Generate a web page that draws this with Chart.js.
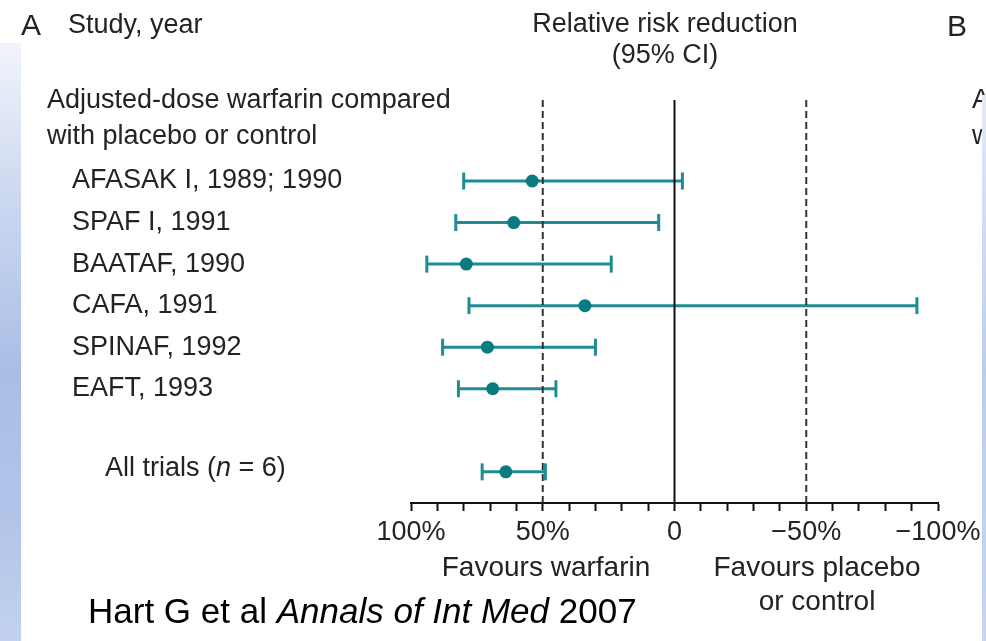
<!DOCTYPE html>
<html>
<head>
<meta charset="utf-8">
<title>Adjusted-dose warfarin compared with placebo or control</title>
<script src="https://cdn.jsdelivr.net/npm/chart.js@4.4.0/dist/chart.umd.min.js"></script>
<style>
    html, body { margin: 0; padding: 0; background: #fff; }
    #wrap { position: relative; width: 986px; height: 641px; overflow: hidden; background: #fff; }
    #plot { position: absolute; left: 0; top: 0; }
    #leftBar {
        position: absolute; left: 0; top: 43px; width: 21px; bottom: 0;
        background: linear-gradient(to bottom, #f1f4fb 0%, #cdd9f0 25%, #a9bee6 55%, #b2c5e9 80%, #c2d1ee 100%);
    }
    #rightBar {
        position: absolute; right: 0; top: 95px; width: 4px; bottom: 0;
        background: linear-gradient(to bottom, #e3eaf7 0%, #bccdec 50%, #c6d4ef 100%);
    }
</style>
</head>
<body>
<div id="wrap">
    <canvas id="plot" width="986" height="641"></canvas>
    <div id="leftBar"></div>
    <div id="rightBar"></div>
</div>
<script>
(function() {
    "use strict";

    // data (relative risk reduction, %)
    const studies = ['AFASAK I, 1989; 1990', 'SPAF I, 1991', 'BAATAF, 1990', 'CAFA, 1991', 'SPINAF, 1992', 'EAFT, 1993'];
    const rowPos = [0, 1, 2, 3, 4, 5, 7];            // last row = pooled result
    const estimate = [54, 61, 79, 34, 71, 69, 64];
    const ciUpper = [80, 83, 94, 78, 88, 82, 73];     // left end of bar
    const ciLower = [-3, 6, 24, -92, 30, 45, 49];     // right end of bar
    const refLines = [50, 0, -50];
    const tickValues = [100, 50, 0, -50, -100];
    const tickText = ['100%', '50%', '0', '\u221250%', '\u2212100%'];

    const family = '"Liberation Sans", Arial, Helvetica, sans-serif';
    const ink = '#232323';
    const teal = '#1e8c92';
    const tealDot = '#0b7b82';
    const yMin = -1.95, yMax = 7.75;

    function font(size, italic) {
        return (italic ? 'italic ' : '') + size + 'px ' + family;
    }

    // draw a line of text made of normal / italic pieces
    function runs(ctx, parts, x, y, size, align) {
        let w = 0;
        parts.forEach(p => { ctx.font = font(size, p[1]); w += ctx.measureText(p[0]).width; });
        let cx = align === 'center' ? x - w / 2 : x;
        ctx.textAlign = 'left';
        parts.forEach(p => {
            ctx.font = font(size, p[1]);
            ctx.fillText(p[0], cx, y);
            cx += ctx.measureText(p[0]).width;
        });
    }

    const labelsPlugin = {
        id: 'forestLabels',
        afterDraw(chart) {
            const ctx = chart.ctx;
            const y = chart.scales.y;
            ctx.save();
            ctx.fillStyle = ink;
            ctx.textBaseline = 'alphabetic';

            ctx.font = font(30);
            ctx.fillText('A', 21, 35);
            ctx.fillText('B', 947, 36);
            ctx.font = font(27);
            ctx.fillText('Study, year', 68, 33);
            runs(ctx, [['Relative risk reduction', false]], 665, 32, 27, 'center');
            runs(ctx, [['(95% CI)', false]], 665, 63, 27, 'center');

            ctx.textBaseline = 'middle';
            ctx.font = font(27);
            ctx.fillText('Adjusted-dose warfarin compared', 47, 101);
            ctx.fillText('with placebo or control', 47, 137);
            // panel B, cut by the right edge
            ctx.fillText('Adjusted-dose', 972, 101);
            ctx.fillText('with placebo', 972, 137);

            studies.forEach((s, i) => {
                ctx.fillText(s, 72, y.getPixelForValue(rowPos[i]));
            });
            runs(ctx, [['All trials (', false], ['n', true], [' = 6)', false]],
                105, y.getPixelForValue(rowPos[6]) - 3, 27, 'left');

            runs(ctx, [['Favours warfarin', false]], 546, 568, 28, 'center');
            runs(ctx, [['Favours placebo', false]], 817, 568, 28, 'center');
            runs(ctx, [['or control', false]], 817, 602, 28, 'center');

            ctx.fillStyle = '#000';
            runs(ctx, [['Hart G et al ', false], ['Annals of Int Med', true], [' 2007', false]], 88, 613, 35, 'left');
            ctx.restore();
        }
    };

    document.addEventListener("DOMContentLoaded", () => {
        const datasets = [];

        datasets.push({
            label: 'Estimate',
            data: rowPos.map((r, i) => ({ x: estimate[i], y: r })),
            pointRadius: 6.5,
            pointBackgroundColor: tealDot,
            pointBorderWidth: 0,
            order: 0
        });

        refLines.forEach(v => {
            datasets.push({
                label: 'ref ' + v,
                data: [{ x: v, y: yMin }, { x: v, y: yMax }],
                showLine: true,
                borderColor: v === 0 ? '#111' : '#333',
                borderWidth: 2,
                borderDash: v === 0 ? [] : [7, 4],
                pointRadius: 0,
                order: 1
            });
        });

        rowPos.forEach((r, i) => {
            datasets.push({
                label: 'CI ' + i,
                data: [{ x: ciUpper[i], y: r }, { x: ciLower[i], y: r }],
                showLine: true,
                borderColor: teal,
                borderWidth: 3,
                pointStyle: 'line',
                pointRotation: 90,
                pointRadius: 8.5,
                pointBorderColor: teal,
                pointBorderWidth: 3,
                order: 2
            });
        });

        new Chart(document.getElementById('plot'), {
            type: 'scatter',
            data: { datasets: datasets },
            plugins: [labelsPlugin],
            options: {
                responsive: false,
                animation: false,
                events: [],
                layout: { padding: { left: 411, right: 48, top: 100, bottom: 0 } },
                plugins: { legend: { display: false }, tooltip: { enabled: false } },
                scales: {
                    x: {
                        type: 'linear',
                        min: -100,
                        max: 100,
                        reverse: true,
                        afterFit(scale) { scale.height = 138; },
                        ticks: {
                            stepSize: 10,
                            autoSkip: false,
                            maxRotation: 0,
                            padding: 5,
                            color: ink,
                            font: { size: 27, family: family },
                            callback(v) {
                                const k = tickValues.indexOf(Math.round(v));
                                return k < 0 ? '' : tickText[k];
                            }
                        },
                        grid: { drawOnChartArea: false, tickLength: 8, tickWidth: 2, tickColor: '#111' },
                        border: { display: true, color: '#111', width: 2 }
                    },
                    y: {
                        type: 'linear',
                        min: yMin,
                        max: yMax,
                        reverse: true,
                        display: false
                    }
                }
            }
        });
    });
})();
</script>
</body>
</html>
